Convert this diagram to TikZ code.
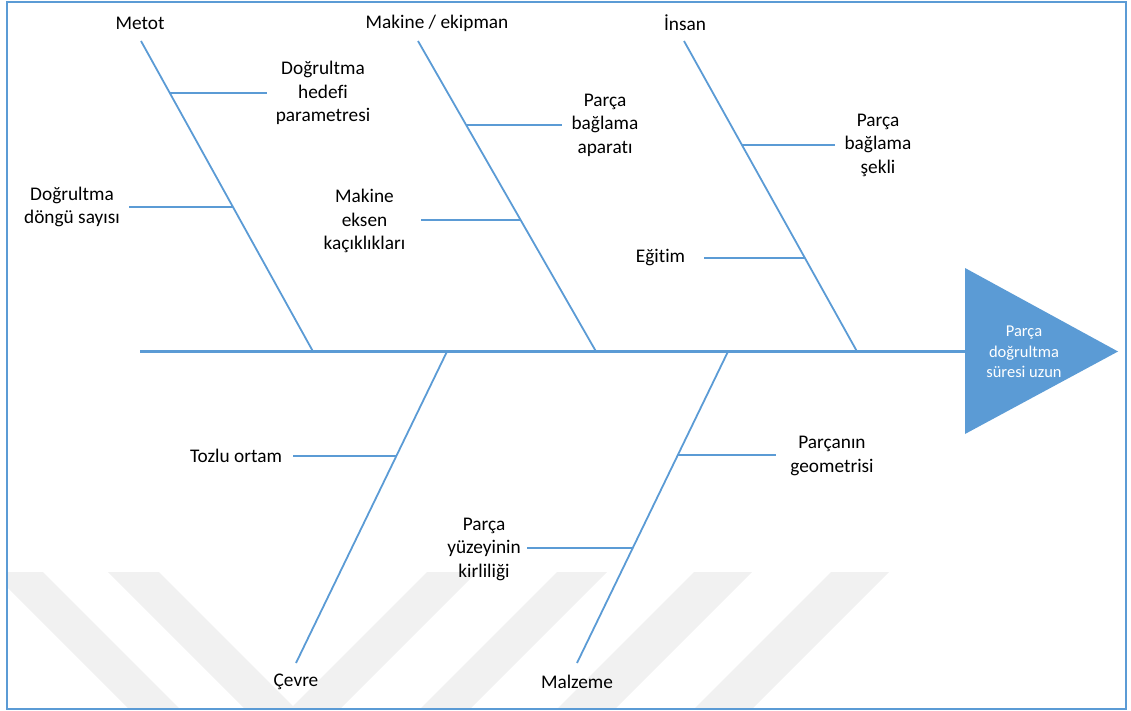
\documentclass[tikz,border=0pt]{standalone}
\usepackage{fontspec}
\setmainfont{Carlito}[Ligatures=NoCommon]
\usetikzlibrary{calc}
\definecolor{boneblue}{HTML}{5B9BD5}
\definecolor{wmgray}{HTML}{F1F1F1}

\begin{document}
\begin{tikzpicture}
		[x=1pt, y=-1pt,
		frame/.style={draw=boneblue, line width=2.2pt},
		spine/.style={draw=boneblue, line width=3.5pt},
		bone/.style={draw=boneblue, line width=1.8pt},
		twig/.style={draw=boneblue, line width=2pt},
		stripe/.style={fill=wmgray},
		head/.style={fill=boneblue},
		headtext/.style={
			text=white,
			align=center,
			font=\fontsize{16.5}{20.5}\selectfont
		},
		cat/.style={
			inner sep=0pt,
			font=\fontsize{19.3}{23.5}\selectfont
		},
		cause/.style={
			align=center,
			inner sep=9pt,
			font=\fontsize{19.3}{23.5}\selectfont
		}]
		\useasboundingbox (0,0) rectangle (1131,711);
		\begin{scope}
			\clip (8,3) rectangle (1125,708);
			\foreach \a in {-8,108}
				\fill[stripe] (\a,572) -- ++(51,0) -- ++(136,136) -- ++(-51,0) -- cycle;
			\foreach \a/\w in {427/50,557/50,694/58,831/58}
				\fill[stripe] (\a,572) -- ++(\w,0) -- ++(-136,136) -- ++(-\w,0) -- cycle;
		\end{scope}
		\draw[frame] (7,2) rectangle (1126,709);

		\fill[head] (965,268) -- (1118,351.5) -- (965,434) -- cycle;
		\node[headtext] (problem) at (1024,352) {Parça\\doğrultma\\süresi uzun};
		\coordinate (tail) at (140,351.5);
		\coordinate (head) at (965,351.5);
		\draw[spine] (tail) -- (head);

		\node[cat] (metot) at (140,23) {Metot};
		\node[cat] (makine) at (437,23) {Makine / ekipman};
		\node[cat] (insan) at (685,23) {İnsan};
		\node[cat] (cevre) at (296,682) {Çevre};
		\node[cat] (malzeme) at (577,682) {Malzeme};

		\coordinate (metot top) at (141,41);
		\coordinate (metot foot) at (313,351.5);
		\coordinate (makine top) at (418,41);
		\coordinate (makine foot) at (596,351.5);
		\coordinate (insan top) at (684,41);
		\coordinate (insan foot) at (857,351.5);
		\coordinate (cevre top) at (447,351.5);
		\coordinate (cevre foot) at (296,663);
		\coordinate (malzeme top) at (728,351.5);
		\coordinate (malzeme foot) at (577,663);

		\draw[bone] (metot top) -- (metot foot);
		\draw[bone] (makine top) -- (makine foot);
		\draw[bone] (insan top) -- (insan foot);
		\draw[bone] (cevre top) -- (cevre foot);
		\draw[bone] (malzeme top) -- (malzeme foot);

		\coordinate (m1) at ($(metot top)!0.167!(metot foot)$);
		\coordinate (m2) at ($(metot top)!0.535!(metot foot)$);
		\coordinate (k1) at ($(makine top)!0.2705!(makine foot)$);
		\coordinate (k2) at ($(makine top)!0.5765!(makine foot)$);
		\coordinate (i1) at ($(insan top)!0.335!(insan foot)$);
		\coordinate (i2) at ($(insan top)!0.699!(insan foot)$);
		\coordinate (c1) at ($(cevre top)!0.3355!(cevre foot)$);
		\coordinate (z1) at ($(malzeme top)!0.332!(malzeme foot)$);
		\coordinate (z2) at ($(malzeme top)!0.631!(malzeme foot)$);

		\node[cause] (hedef) at (323,93) {Doğrultma\\hedefi\\parametresi};
		\node[cause] (dongu) at (72,207) {Doğrultma\\döngü sayısı};
		\node[cause] (aparat) at (605,125) {Parça\\bağlama\\aparatı};
		\node[cause, inner xsep=16pt] (eksen) at (364.5,221) {Makine\\eksen\\kaçıklıkları};
		\node[cause] (sekil) at (878,145) {Parça\\bağlama\\şekli};
		\node[cause, inner xsep=19pt] (egitim) at (660.5,258) {Eğitim};
		\node[cause, inner xsep=11pt] (toz) at (236,456) {Tozlu ortam};
		\node[cause, inner xsep=14pt] (geometri) at (832,456) {Parçanın\\geometrisi};
		\node[cause, inner xsep=6pt] (kir) at (484,549) {Parça\\yüzeyinin\\kirliliği};

		\draw[twig] (m1) -- (m1 -| hedef.west);
		\draw[twig] (m2) -- (m2 -| dongu.east);
		\draw[twig] (k1) -- (k1 -| aparat.west);
		\draw[twig] (k2) -- (k2 -| eksen.east);
		\draw[twig] (i1) -- (i1 -| sekil.west);
		\draw[twig] (i2) -- (i2 -| egitim.east);
		\draw[twig] (c1) -- (c1 -| toz.east);
		\draw[twig] (z1) -- (z1 -| geometri.west);
		\draw[twig] (z2) -- (z2 -| kir.east);
	\end{tikzpicture}
\end{document}
